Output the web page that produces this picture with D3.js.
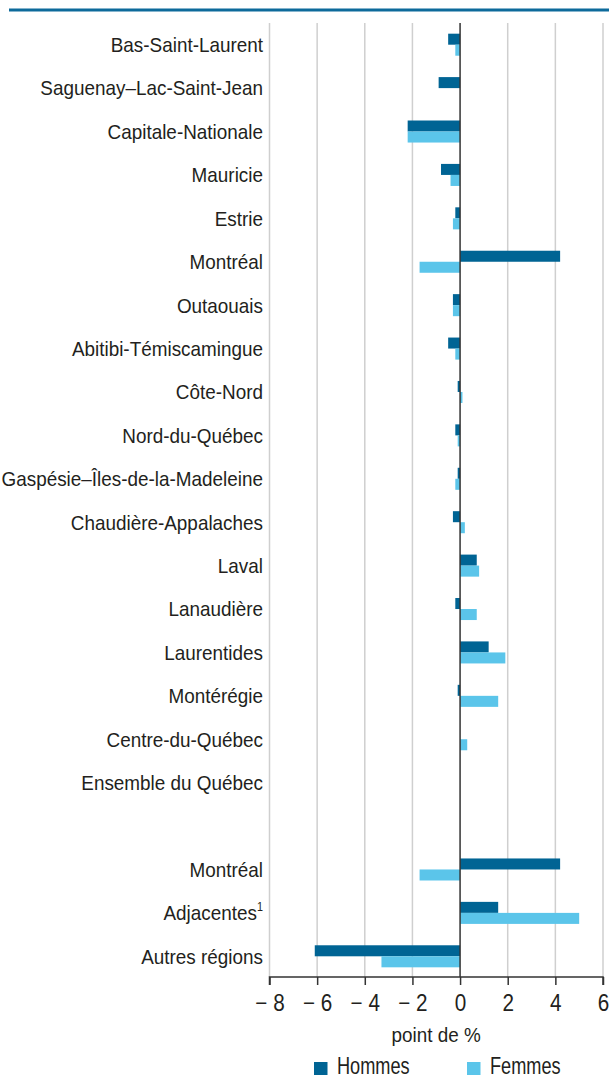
<!DOCTYPE html>
<html>
<head>
<meta charset="utf-8">
<script src="https://cdn.jsdelivr.net/npm/d3@7"></script>
<style>
  body { margin: 0; background: #fff; }
  text { font-family: "Liberation Sans", Arial, sans-serif; fill: #231f20; }
</style>
</head>
<body>
<svg id="chart" width="609" height="1076"></svg>
<script>
let svg = d3.select("#chart");

//! DATA
let regions = [
    "Bas-Saint-Laurent", "Saguenay–Lac-Saint-Jean", "Capitale-Nationale", "Mauricie",
    "Estrie", "Montréal", "Outaouais", "Abitibi-Témiscamingue", "Côte-Nord",
    "Nord-du-Québec", "Gaspésie–Îles-de-la-Madeleine", "Chaudière-Appalaches", "Laval",
    "Lanaudière", "Laurentides", "Montérégie", "Centre-du-Québec", "Ensemble du Québec",
    "", "Montréal", "Adjacentes", "Autres régions"
];
let hommes = [-0.5, -0.9, -2.2, -0.8, -0.2, 4.2, -0.3, -0.5, -0.1, -0.2, -0.1, -0.3, 0.7,
    -0.2, 1.2, -0.1, 0, 0, null, 4.2, 1.6, -6.1];
let femmes = [-0.2, 0, -2.2, -0.4, -0.3, -1.7, -0.3, -0.2, 0.1, -0.1, -0.2, 0.2, 0.8,
    0.7, 1.9, 1.6, 0.3, 0, null, -1.7, 5.0, -3.3];
let series = ["Hommes", "Femmes"];
let colors = ["#006494", "#5bc5ea"];
let xTicks = [-8, -6, -4, -2, 0, 2, 4, 6];

// the reference uses a condensed face; squeeze Liberation Sans to match
let squeeze = 0.9;

//? Scales
let x = d3.scaleLinear().domain([-8, 6]).range([269.5, 603]);
let y = d3.scaleBand().domain(d3.range(regions.length)).range([23, 978]).padding(0);
let y1 = d3.scaleBand().domain(series).range([0, y.bandwidth()]).paddingOuter(0.97).paddingInner(0);

// top rule
svg.append("line")
    .attr("x1", 9).attr("x2", 609)
    .attr("y1", 10).attr("y2", 10)
    .attr("stroke", "#0d6a9b")
    .attr("stroke-width", 3);

//? grid
svg.append("g")
    .selectAll("line")
    .data(xTicks.filter(d => d !== 0))
    .enter()
    .append("line")
    .attr("x1", d => x(d)).attr("x2", d => x(d))
    .attr("y1", 23).attr("y2", 977)
    .attr("stroke", "#cfcfcf")
    .attr("stroke-width", 1.5);

//? bars
let rows = regions.map((r, i) => ({ i: i, values: [hommes[i], femmes[i]] }));
svg.append("g")
    .selectAll("g")
    .data(rows)
    .enter()
    .append("g")
    .attr("transform", d => `translate(0,${y(d.i)})`)
    .selectAll("rect")
    .data(d => d.values.map((v, k) => ({ key: series[k], v: v, k: k })).filter(e => e.v))
    .enter()
    .append("rect")
    .attr("x", d => x(Math.min(0, d.v)))
    .attr("width", d => Math.abs(x(d.v) - x(0)))
    .attr("y", d => y1(d.key))
    .attr("height", y1.bandwidth())
    .attr("fill", d => colors[d.k]);

// zero line
svg.append("line")
    .attr("x1", x(0)).attr("x2", x(0))
    .attr("y1", 23).attr("y2", 977)
    .attr("stroke", "#333")
    .attr("stroke-width", 1.5);

//? category labels
let labels = svg.append("g")
    .selectAll("text")
    .data(regions.map((r, i) => ({ r: r, i: i })))
    .enter()
    .append("text")
    .attr("transform", d => `translate(263,${y(d.i) + y.bandwidth() / 2}) scale(${squeeze},1)`)
    .attr("dy", "0.35em")
    .attr("text-anchor", "end")
    .attr("font-size", 21)
    .text(d => d.r);
labels.filter(d => d.r === "Adjacentes")
    .append("tspan")
    .attr("font-size", 12)
    .attr("dy", "-0.8em")
    .text("1");

//? x axis
let axis = svg.append("g")
    .attr("transform", "translate(0,977)")
    .call(d3.axisBottom(x)
        .tickValues(xTicks)
        .tickSize(8)
        .tickPadding(9.5)
        .tickFormat(d => d < 0 ? "\u2212 " + Math.abs(d) : d));
axis.select(".domain").attr("stroke", "#333").attr("stroke-width", 1.5)
    .attr("d", `M${x(-8)},8V0H${x(6)}V8`);
axis.selectAll(".tick line").attr("stroke", "#333").attr("stroke-width", 1.5);
axis.selectAll(".tick text")
    .attr("font-size", 23)
    .attr("fill", "#231f20")
    .attr("transform", `scale(${squeeze},1)`)
    .style("font-family", '"Liberation Sans", Arial, sans-serif');

svg.append("text")
    .attr("transform", `translate(${x(-1)},1042) scale(${squeeze},1)`)
    .attr("text-anchor", "middle")
    .attr("font-size", 21)
    .text("point de %");

//? legend
let legend = svg.append("g")
    .selectAll("g")
    .data(series)
    .enter()
    .append("g")
    .attr("transform", (d, i) => `translate(${314 + i * 153},1062)`);
legend.append("rect")
    .attr("width", 13.5).attr("height", 13)
    .attr("fill", (d, i) => colors[i]);
legend.append("text")
    .attr("transform", "translate(23,12) scale(0.79,1)")
    .attr("font-size", 23)
    .text(d => d);
</script>
</body>
</html>
